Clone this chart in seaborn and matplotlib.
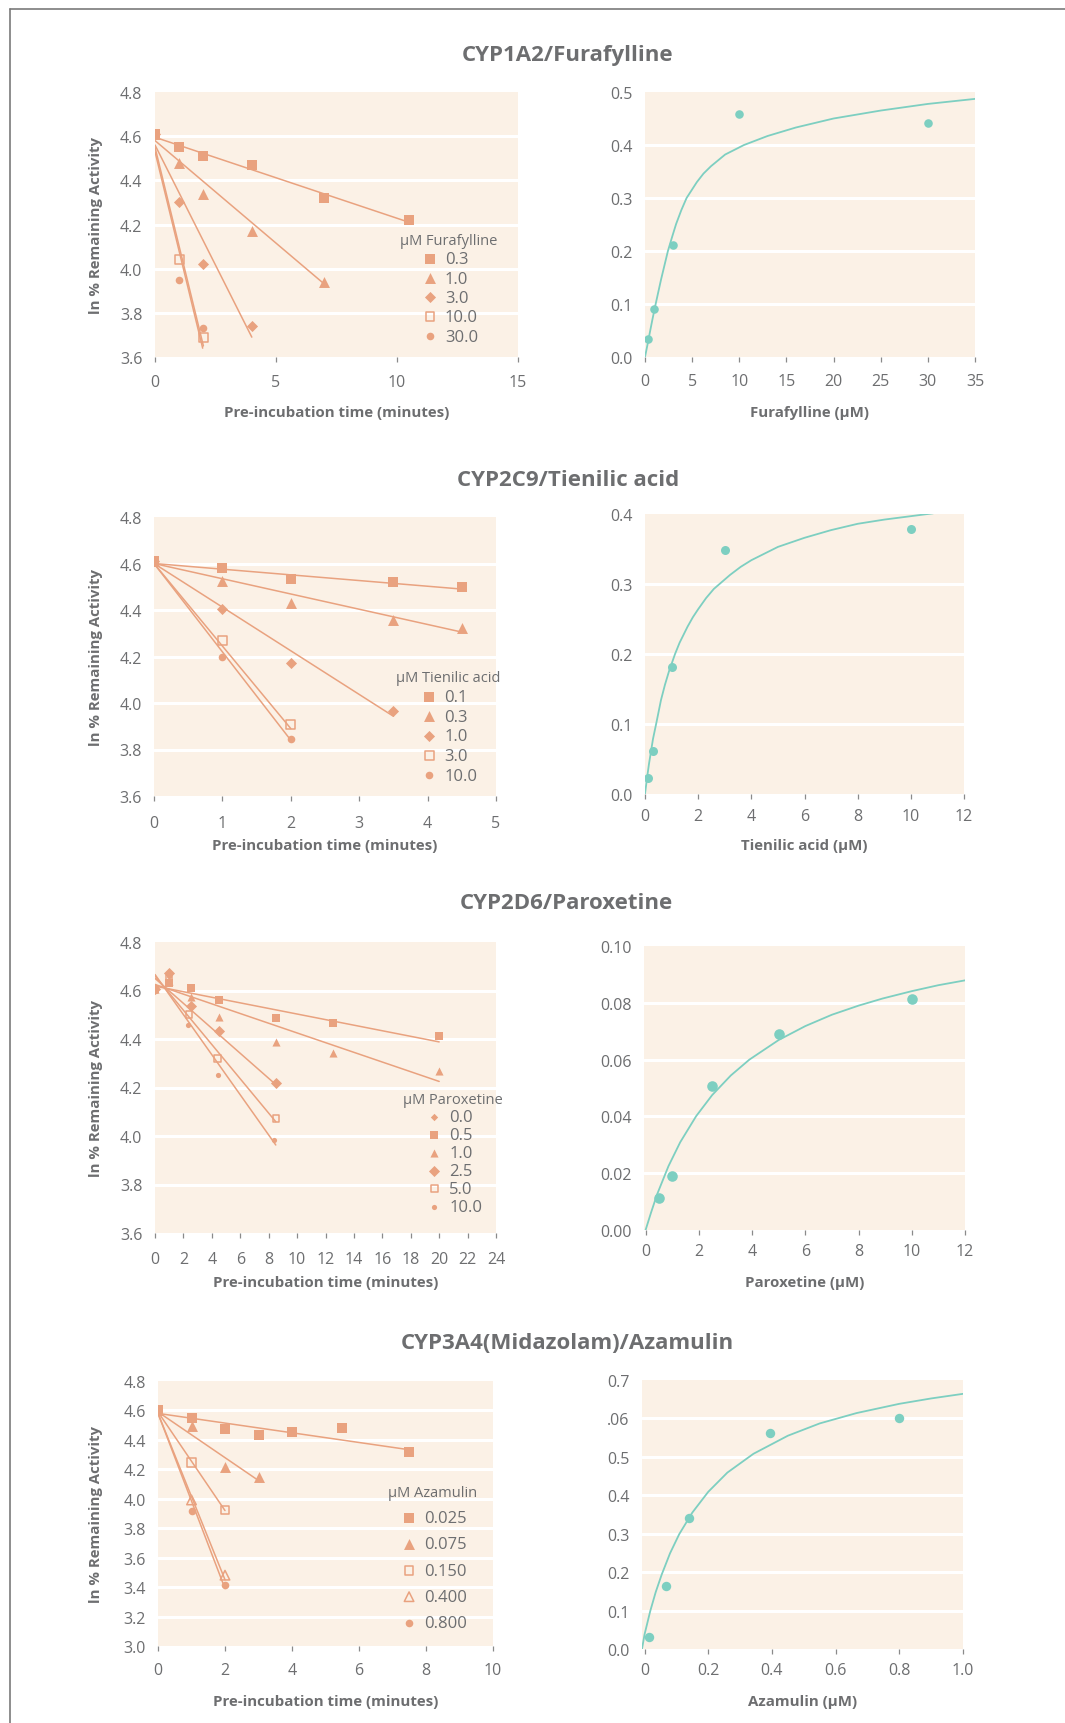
import matplotlib
matplotlib.use("Agg")
import matplotlib.pyplot as plt
from matplotlib.lines import Line2D
import seaborn as sns

# ---------------- data ----------------
# CYP1A2 / Furafylline
FURA_CONC = ["0.3", "1.0", "3.0", "10.0", "30.0"]
FURA_TIME = [[0, 1, 2, 4, 7, 10.5], [0, 1, 2, 4, 7], [0, 1, 2, 4], [0, 1, 2], [0, 1, 2]]
FURA_LN = [
    [4.61, 4.55, 4.51, 4.47, 4.32, 4.22],
    [4.61, 4.48, 4.34, 4.17, 3.94],
    [4.61, 4.30, 4.02, 3.74],
    [4.61, 4.04, 3.69],
    [4.61, 3.95, 3.73],
]
FURA_FIT_X = [[0, 10.5], [0, 7], [0, 4], [0, 2], [0, 1.97]]
FURA_FIT_Y = [[4.595, 4.21], [4.58, 3.93], [4.56, 3.69], [4.55, 3.65], [4.53, 3.64]]
FURA_I = [0.3, 1, 3, 10, 30]
FURA_KOBS = [0.034, 0.091, 0.211, 0.458, 0.442]
FURA_CURVE_X = [0, 0.25, 0.5, 0.8, 1.13, 1.7, 2.43, 2.9, 3.3, 3.85, 4.41, 5.5, 6.2, 7, 8.5,
                10.5, 13, 16, 20, 25, 30, 35]
FURA_CURVE_Y = [0, 0.022, 0.045, 0.072, 0.1, 0.146, 0.2, 0.228, 0.251, 0.277, 0.3, 0.33,
                0.346, 0.36, 0.382, 0.4, 0.417, 0.433, 0.45, 0.465, 0.4775, 0.487]

# CYP2C9 / Tienilic acid
TIEN_CONC = ["0.1", "0.3", "1.0", "3.0", "10.0"]
TIEN_TIME = [[0, 1, 2, 3.5, 4.5], [0, 1, 2, 3.5, 4.5], [0, 1, 2, 3.5], [0, 1, 2], [0, 1, 2]]
TIEN_LN = [
    [4.61, 4.58, 4.534, 4.52, 4.498],
    [4.61, 4.523, 4.428, 4.356, 4.323],
    [4.61, 4.406, 4.172, 3.965],
    [4.61, 4.27, 3.907],
    [4.61, 4.20, 3.847],
]
TIEN_FIT_X = [[0, 4.5], [0, 4.5], [0, 3.5], [0, 2], [0, 2]]
TIEN_FIT_Y = [[4.60, 4.49], [4.60, 4.305], [4.60, 3.943], [4.60, 3.89], [4.60, 3.84]]
TIEN_I = [0.1, 0.3, 1, 3, 10]
TIEN_KOBS = [0.023, 0.061, 0.182, 0.348, 0.378]
TIEN_CURVE_X = [0, 0.08, 0.15, 0.3, 0.44, 0.6, 0.75, 0.9, 1.13, 1.3, 1.6, 1.8, 2.0, 2.3,
                2.59, 3.2, 3.6, 4, 5, 6, 7, 8, 9, 10.84]
TIEN_CURVE_Y = [0, 0.024, 0.043, 0.0785, 0.104, 0.134, 0.156, 0.175, 0.2, 0.216, 0.239,
                0.2525, 0.264, 0.28, 0.293, 0.313, 0.3245, 0.334, 0.353, 0.366, 0.377,
                0.386, 0.392, 0.401]

# CYP2D6 / Paroxetine
PARO_CONC = ["0.0", "0.5", "1.0", "2.5", "5.0", "10.0"]
PARO_TIME = [[0, 1], [0, 1, 2.5, 4.5, 8.5, 12.5, 20], [0, 1, 2.5, 4.5, 8.5, 12.5, 20],
             [0, 1, 2.5, 4.5, 8.5], [0, 1, 2.4, 4.4, 8.5], [0, 1, 2.35, 4.4, 8.4]]
PARO_LN = [
    [4.605, 4.675],
    [4.605, 4.629, 4.611, 4.559, 4.488, 4.465, 4.411],
    [4.605, 4.64, 4.572, 4.491, 4.388, 4.343, 4.27],
    [4.605, 4.672, 4.538, 4.434, 4.218],
    [4.605, 4.652, 4.502, 4.319, 4.072],
    [4.605, 4.66, 4.459, 4.251, 3.985],
]
PARO_FIT_X = [None, [0, 20], [0, 20], [0, 8.6], [0, 8.5], [0, 8.5]]
PARO_FIT_Y = [None, [4.618, 4.388], [4.625, 4.225], [4.65, 4.207], [4.66, 4.059], [4.666, 3.963]]
PARO_I = [0.5, 1, 2.5, 5, 10]
PARO_KOBS = [0.0112, 0.019, 0.0508, 0.069, 0.0814]
PARO_CURVE_X = [0, 0.2, 0.43, 0.86, 1.3, 1.9, 2.5, 3.2, 3.9, 5, 6, 7, 8, 8.9, 10, 11, 12]
PARO_CURVE_Y = [0, 0.006, 0.0125, 0.0225, 0.0309, 0.0401, 0.0475, 0.0544, 0.06, 0.0669,
                0.0718, 0.0758, 0.079, 0.0815, 0.0841, 0.0862, 0.0879]

# CYP3A4 (Midazolam) / Azamulin
AZAM_CONC = ["0.025", "0.075", "0.150", "0.400", "0.800"]
AZAM_TIME = [[0, 1, 2, 3, 4, 5.5, 7.5], [0, 1, 2, 3], [0, 1, 2], [0, 1, 2], [0, 1, 2]]
AZAM_LN = [
    [4.605, 4.55, 4.471, 4.435, 4.453, 4.48, 4.319],
    [4.60, 4.494, 4.214, 4.146],
    [4.60, 4.246, 3.924],
    [4.60, 3.992, 3.481],
    [4.60, 3.919, 3.413],
]
AZAM_FIT_X = [[0, 7.5], [0, 3], [0, 2], [0, 2], [0, 2]]
AZAM_FIT_Y = [[4.58, 4.333], [4.59, 4.124], [4.59, 3.92], [4.58, 3.45], [4.58, 3.39]]
AZAM_I = [0.015, 0.066, 0.141, 0.395, 0.8]
AZAM_KOBS = [0.0303, 0.165, 0.342, 0.563, 0.60]
AZAM_CURVE_X = [-0.008, 0.0, 0.018, 0.035, 0.054, 0.08, 0.109, 0.15, 0.2, 0.26, 0.342,
                0.45, 0.55, 0.666, 0.8, 0.9, 1.0]
AZAM_CURVE_Y = [0, 0.038, 0.099, 0.148, 0.194, 0.249, 0.299, 0.355, 0.409, 0.459, 0.508,
                0.555, 0.587, 0.614, 0.638, 0.652, 0.664]
AZAM_YTICKLABELS = ["0.0", "0.1", "0.2", "0.3", "0.4", "0.5", ".06", "0.7"]

# ---------------- styling ----------------
SALMON = "#E9A27F"
TEAL = "#7DCFC1"
BG = "#FBF1E6"
TEXT = "#6D6E70"
FONT = ["Open Sans", "DejaVu Sans"]

W, H = 1065, 1724

sns.set_style("white")
plt.rcParams["font.family"] = FONT
plt.rcParams["text.color"] = TEXT
plt.rcParams["axes.labelcolor"] = TEXT

# marker style per series: (marker, filled, size)
FURA_STYLE = [("s", True, 50), ("^", True, 62), ("D", True, 32), ("s", False, 40), ("o", True, 30)]
TIEN_STYLE = FURA_STYLE
PARO_STYLE = [("D", True, 14), ("s", True, 26), ("^", True, 34), ("D", True, 32),
              ("s", False, 22), ("o", True, 14)]
AZAM_STYLE = [("s", True, 50), ("^", True, 62), ("s", False, 40), ("^", False, 47), ("o", True, 30)]


def px_axes(fig, left, top, right, bottom):
    return fig.add_axes([left / W, 1 - bottom / H, (right - left) / W, (bottom - top) / H])


def style_axes(ax, box, xlim, xticks, ylim, yticks, xlabel, label_off, tick_pad,
               yticklabels=None, xticklabels=None, ylabel=None):
    left, top, right, bottom = box
    ax.set_facecolor(BG)
    for sp in ax.spines.values():
        sp.set_visible(False)
    ax.set_xlim(xlim)
    ax.set_ylim(ylim)
    ax.set_xticks(xticks)
    ax.set_yticks(yticks)
    if xticklabels is not None:
        ax.set_xticklabels(xticklabels)
    if yticklabels is not None:
        ax.set_yticklabels(yticklabels)
    ax.grid(False)
    for y in yticks[1:-1]:
        ax.axhline(y, color="white", lw=2.2, zorder=0.5)
    ax.tick_params(axis="x", direction="out", length=3.8, width=0.9, color="#8a8a8a",
                   pad=tick_pad, labelsize=11.5, labelcolor=TEXT, bottom=True)
    ax.tick_params(axis="y", length=0, pad=9, labelsize=11.5, labelcolor=TEXT, left=True)
    ax.set_xlabel(xlabel, fontsize=10.8, fontweight="bold", color=TEXT)
    ax.xaxis.set_label_coords(0.5, -(label_off - 6) / (bottom - top))
    if ylabel:
        ax.set_ylabel(ylabel, fontsize=10.8, fontweight="bold", color=TEXT)
        ax.yaxis.set_label_coords(-(left - 103) / (right - left), 0.5)
    else:
        ax.set_ylabel("")


def decay_panel(ax, concs, times, values, fit_x, fit_y, styles, legend_title,
                legend_anchor, spacing):
    handles = []
    for i, conc in enumerate(concs):
        marker, filled, size = styles[i]
        if fit_x[i] is not None:
            sns.lineplot(x=fit_x[i], y=fit_y[i], color=SALMON, lw=1.1, ax=ax, zorder=2)
        face = SALMON if filled else "none"
        sns.scatterplot(x=times[i], y=values[i], marker=marker, s=size, color=SALMON,
                        facecolor=face, edgecolor=SALMON,
                        linewidth=0 if filled else 1.1, ax=ax, zorder=3, legend=False)
        handles.append(ax.collections[-1])
    leg = ax.legend(handles, concs, title=legend_title, frameon=False, loc="upper left",
                    bbox_to_anchor=legend_anchor, borderpad=0, fontsize=12,
                    title_fontsize=10.5, labelspacing=spacing, handletextpad=0.3,
                    handlelength=1.2, scatterpoints=1)
    leg.get_title().set_color(TEXT)
    for t in leg.get_texts():
        t.set_color(TEXT)


def kinetics_panel(ax, conc, kobs, curve_x, curve_y, size):
    sns.lineplot(x=curve_x, y=curve_y, color=TEAL, lw=1.3, ax=ax, zorder=2, sort=False)
    sns.scatterplot(x=conc, y=kobs, color=TEAL, s=size, linewidth=0, ax=ax, zorder=3,
                    legend=False)


fig = plt.figure(figsize=(W / 100, H / 100), dpi=100)

YLAB = "ln % Remaining Activity"
XLAB = "Pre-incubation time (minutes)"
DEC_Y = [3.6, 3.8, 4.0, 4.2, 4.4, 4.6, 4.8]

# row 1
box = (155, 93, 518, 358)
ax = px_axes(fig, *box)
decay_panel(ax, FURA_CONC, FURA_TIME, FURA_LN, FURA_FIT_X, FURA_FIT_Y, FURA_STYLE,
            "\u00b5M Furafylline", (0.653, 0.50), 0.2)
style_axes(ax, box, (0, 15), [0, 5, 10, 15], (3.6, 4.8), DEC_Y, XLAB, 54, 8.5, ylabel=YLAB)

box = (645, 93, 975, 358)
ax = px_axes(fig, *box)
kinetics_panel(ax, FURA_I, FURA_KOBS, FURA_CURVE_X, FURA_CURVE_Y, 38)
style_axes(ax, box, (0, 35), list(range(0, 36, 5)), (0, 0.5), [0, 0.1, 0.2, 0.3, 0.4, 0.5],
           "Furafylline (\u00b5M)", 54, 8,
           yticklabels=["0.0", "0.1", "0.2", "0.3", "0.4", "0.5"])

# row 2
box = (154, 518, 496, 797)
ax = px_axes(fig, *box)
decay_panel(ax, TIEN_CONC, TIEN_TIME, TIEN_LN, TIEN_FIT_X, TIEN_FIT_Y, TIEN_STYLE,
            "\u00b5M Tienilic acid", (0.684, 0.48), 0.22)
style_axes(ax, box, (0, 5), [0, 1, 2, 3, 4, 5], (3.6, 4.8), DEC_Y, XLAB, 48, 10, ylabel=YLAB)

box = (645, 515, 964, 795)
ax = px_axes(fig, *box)
kinetics_panel(ax, TIEN_I, TIEN_KOBS, TIEN_CURVE_X, TIEN_CURVE_Y, 42)
style_axes(ax, box, (0, 12), list(range(0, 13, 2)), (0, 0.4), [0, 0.1, 0.2, 0.3, 0.4],
           "Tienilic acid (\u00b5M)", 50, 6.4,
           yticklabels=["0.0", "0.1", "0.2", "0.3", "0.4"])

# row 3
box = (155, 943, 496, 1234)
ax = px_axes(fig, *box)
decay_panel(ax, PARO_CONC, PARO_TIME, PARO_LN, PARO_FIT_X, PARO_FIT_Y, PARO_STYLE,
            "\u00b5M Paroxetine", (0.704, 0.513), 0.12)
style_axes(ax, box, (0, 24), list(range(0, 25, 2)), (3.6, 4.8), DEC_Y, XLAB, 48, 9.3,
           ylabel=YLAB)

box = (644, 947, 965, 1231)
ax = px_axes(fig, *box)
kinetics_panel(ax, PARO_I, PARO_KOBS, PARO_CURVE_X, PARO_CURVE_Y, 58)
style_axes(ax, box, (-0.06, 12), list(range(0, 13, 2)), (0, 0.1),
           [0, 0.02, 0.04, 0.06, 0.08, 0.1], "Paroxetine (\u00b5M)", 51, 5.7,
           yticklabels=["0.00", "0.02", "0.04", "0.06", "0.08", "0.10"])

# row 4
box = (158, 1382, 493, 1647)
ax = px_axes(fig, *box)
decay_panel(ax, AZAM_CONC, AZAM_TIME, AZAM_LN, AZAM_FIT_X, AZAM_FIT_Y, AZAM_STYLE,
            "\u00b5M Azamulin", (0.663, 0.64), 0.62)
style_axes(ax, box, (0, 10), [0, 2, 4, 6, 8, 10], (3.0, 4.8),
           [3.0, 3.2, 3.4, 3.6, 3.8, 4.0, 4.2, 4.4, 4.6, 4.8], XLAB, 54, 8, ylabel=YLAB)

box = (642, 1381, 963, 1650)
ax = px_axes(fig, *box)
kinetics_panel(ax, AZAM_I, AZAM_KOBS, AZAM_CURVE_X, AZAM_CURVE_Y, 46)
style_axes(ax, box, (-0.008, 1.0), [0, 0.2, 0.4, 0.6, 0.8, 1.0], (0, 0.7),
           [0, 0.1, 0.2, 0.3, 0.4, 0.5, 0.6, 0.7], "Azamulin (\u00b5M)", 51, 5.7,
           yticklabels=AZAM_YTICKLABELS, xticklabels=["0", "0.2", "0.4", "0.6", "0.8", "1.0"])

# row titles
for title, ypx, xpx in [("CYP1A2/Furafylline", 55, 568), ("CYP2C9/Tienilic acid", 480, 568),
                        ("CYP2D6/Paroxetine", 904, 566), ("CYP3A4(Midazolam)/Azamulin", 1344, 567)]:
    fig.text(xpx / W, 1 - ypx / H, title, ha="center", va="center", fontsize=16,
             fontweight="bold", color=TEXT)

# thin frame on the top and left edge
fig.add_artist(Line2D([10 / W, 10 / W], [0, 1 - 10 / H], color="#7a7a7a", lw=1.2))
fig.add_artist(Line2D([10 / W, 1], [1 - 10 / H, 1 - 10 / H], color="#7a7a7a", lw=1.2))

fig.savefig("out.png", dpi=100)
